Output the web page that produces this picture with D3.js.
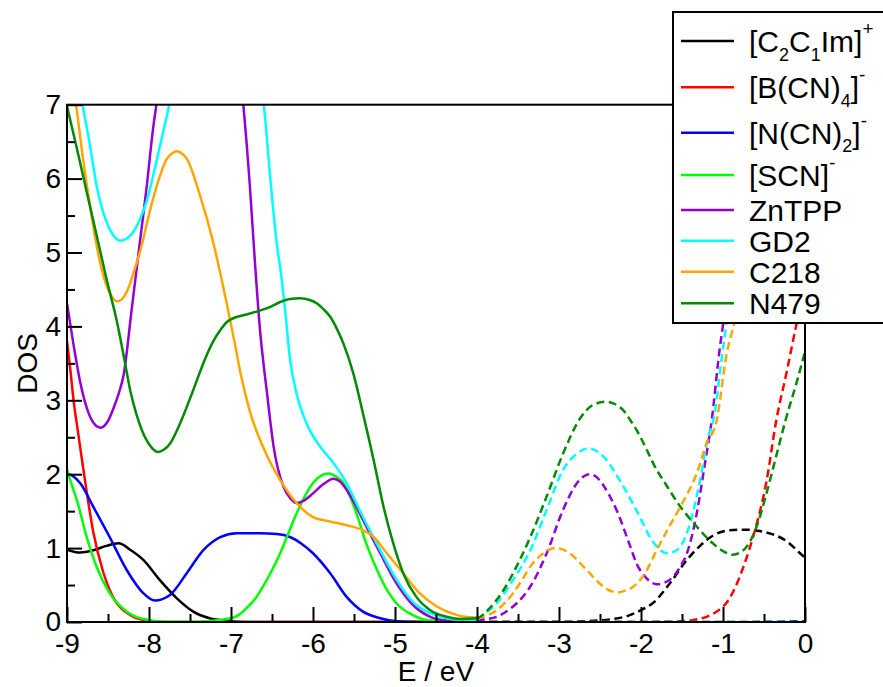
<!DOCTYPE html>
<html>
<head>
<meta charset="utf-8">
<script src="https://cdn.jsdelivr.net/npm/d3@7/dist/d3.min.js"></script>
<style>
  html, body { margin: 0; padding: 0; background: #fff; }
  svg { display: block; font-family: "Liberation Sans", Arial, Helvetica, sans-serif; }
</style>
</head>
<body>
<svg id="chart" width="883" height="687"></svg>
<script>
// ---- Density of states, [E (eV), DOS] ----
// occupied levels (solid), E <= -4 eV
const occC2C1Im = [[-9,0.98],[-8.84,0.94],[-8.68,0.97],[-8.52,1.03],[-8.37,1.065],[-8.22,0.97],[-8.07,0.84],[-7.87,0.57],[-7.66,0.32],[-7.46,0.14],[-7.26,0.05],[-7.05,0.015],[-6.8,0],[-6,0],[-5,0],[-4,0]];
const occBCN4 = [[-9,3.8],[-8.96,3.42],[-8.92,3.0],[-8.88,2.68],[-8.84,2.37],[-8.76,1.76],[-8.68,1.22],[-8.56,0.68],[-8.47,0.41],[-8.39,0.25],[-8.29,0.14],[-8.19,0.07],[-8.0,0.015],[-7.8,0],[-6,0],[-4,0]];
const occNCN2 = [[-9,2.01],[-8.92,1.97],[-8.84,1.88],[-8.68,1.56],[-8.48,1.15],[-8.27,0.70],[-8.07,0.39],[-7.93,0.29],[-7.74,0.37],[-7.54,0.66],[-7.34,0.97],[-7.13,1.15],[-6.93,1.2],[-6.65,1.2],[-6.44,1.19],[-6.28,1.15],[-6.14,1.06],[-6.0,0.93],[-5.79,0.66],[-5.59,0.34],[-5.39,0.14],[-5.18,0.05],[-4.98,0.01],[-4.7,0],[-4,0]];
const occSCN = [[-9,2.06],[-8.94,1.85],[-8.88,1.65],[-8.76,1.15],[-8.64,0.75],[-8.48,0.39],[-8.27,0.14],[-8.07,0.04],[-7.8,0.005],[-7.4,0.005],[-7.13,0.03],[-7.0,0.05],[-6.9,0.1],[-6.8,0.2],[-6.7,0.32],[-6.6,0.5],[-6.5,0.7],[-6.4,0.93],[-6.3,1.2],[-6.2,1.47],[-6.1,1.7],[-6.0,1.88],[-5.9,1.98],[-5.81,2.01],[-5.72,1.97],[-5.63,1.88],[-5.55,1.7],[-5.47,1.47],[-5.35,1.06],[-5.18,0.61],[-5.08,0.4],[-4.98,0.25],[-4.78,0.09],[-4.57,0.02],[-4.3,0.005],[-4,0]];
const occZnTPP = [[-9,4.31],[-8.92,3.75],[-8.84,3.25],[-8.76,2.9],[-8.68,2.7],[-8.59,2.63],[-8.5,2.72],[-8.42,2.93],[-8.37,3.09],[-8.31,3.34],[-8.21,4.24],[-8.11,5.15],[-8.03,5.87],[-7.95,6.68],[-7.91,7.0],[-7.8,8.0],[-7.6,9.3],[-7.35,9.8],[-7.1,9.0],[-6.95,8.0],[-6.85,7.0],[-6.77,5.9],[-6.71,4.9],[-6.65,4.0],[-6.56,3.09],[-6.48,2.37],[-6.36,1.83],[-6.28,1.68],[-6.2,1.61],[-6.1,1.65],[-6.0,1.74],[-5.88,1.86],[-5.75,1.94],[-5.67,1.9],[-5.59,1.79],[-5.49,1.6],[-5.39,1.38],[-5.18,0.93],[-4.98,0.52],[-4.78,0.23],[-4.57,0.07],[-4.37,0.02],[-4,0.0]];
const occGD2 = [[-9,8.3],[-8.9,7.6],[-8.81,7.0],[-8.72,6.45],[-8.64,5.91],[-8.52,5.42],[-8.44,5.24],[-8.35,5.16],[-8.27,5.19],[-8.19,5.28],[-8.11,5.45],[-8.03,5.69],[-7.91,6.23],[-7.78,6.86],[-7.6,7.8],[-7.3,8.6],[-7.0,8.6],[-6.75,7.8],[-6.6,7.0],[-6.52,6.0],[-6.44,5.1],[-6.4,4.8],[-6.34,4.22],[-6.28,3.55],[-6.2,3.09],[-6.08,2.69],[-5.91,2.37],[-5.75,2.15],[-5.59,1.88],[-5.49,1.65],[-5.39,1.42],[-5.18,0.97],[-4.98,0.57],[-4.78,0.27],[-4.57,0.12],[-4.37,0.05],[-4.2,0.03],[-4,0.03]];
const occC218 = [[-9,7.95],[-8.95,7.45],[-8.89,7.0],[-8.8,6.23],[-8.72,5.64],[-8.64,5.1],[-8.52,4.56],[-8.45,4.4],[-8.39,4.34],[-8.33,4.37],[-8.27,4.47],[-8.19,4.72],[-8.11,5.01],[-7.95,5.73],[-7.78,6.27],[-7.72,6.34],[-7.66,6.37],[-7.6,6.34],[-7.54,6.27],[-7.38,5.78],[-7.22,5.15],[-7.05,4.3],[-6.95,3.75],[-6.89,3.4],[-6.77,2.85],[-6.61,2.37],[-6.4,1.92],[-6.2,1.61],[-6.0,1.42],[-5.79,1.36],[-5.59,1.31],[-5.39,1.24],[-5.26,1.15],[-5.1,0.93],[-4.9,0.66],[-4.7,0.39],[-4.49,0.21],[-4.29,0.11],[-4.15,0.07],[-4,0.06]];
const occN479 = [[-9,6.98],[-8.88,6.41],[-8.76,5.82],[-8.64,5.24],[-8.52,4.65],[-8.39,4.06],[-8.3,3.55],[-8.23,3.14],[-8.15,2.8],[-8.03,2.46],[-7.96,2.35],[-7.89,2.30],[-7.82,2.33],[-7.74,2.42],[-7.62,2.69],[-7.46,3.14],[-7.32,3.55],[-7.22,3.79],[-7.13,3.95],[-7.05,4.06],[-6.95,4.12],[-6.85,4.15],[-6.69,4.2],[-6.55,4.25],[-6.4,4.33],[-6.28,4.37],[-6.16,4.38],[-6.05,4.36],[-5.95,4.31],[-5.87,4.23],[-5.79,4.13],[-5.71,3.97],[-5.63,3.77],[-5.51,3.37],[-5.39,2.82],[-5.26,2.19],[-5.14,1.56],[-5.02,1.06],[-4.9,0.66],[-4.74,0.34],[-4.57,0.16],[-4.37,0.07],[-4.2,0.04],[-4,0.05]];

// unoccupied levels (dashed), E >= -4 eV
const virC2C1Im = [[-4,0],[-3,0],[-2.8,0.005],[-2.54,0.02],[-2.35,0.04],[-2.17,0.08],[-2.0,0.16],[-1.85,0.26],[-1.65,0.52],[-1.44,0.84],[-1.28,1.03],[-1.12,1.17],[-0.92,1.24],[-0.71,1.25],[-0.55,1.23],[-0.43,1.2],[-0.22,1.09],[-0.06,0.93],[0,0.87]];
const virBCN4 = [[-4,0],[-2,0],[-1.7,0.003],[-1.44,0.015],[-1.3,0.04],[-1.2,0.07],[-1.08,0.14],[-0.95,0.27],[-0.85,0.47],[-0.75,0.75],[-0.68,0.98],[-0.61,1.24],[-0.47,1.9],[-0.35,2.73],[-0.22,3.4],[-0.11,4.0],[0,4.55]];
const virNCN2 = [[-4,0],[-2,0],[-1,0],[0,0.01]];
const virSCN = [[-4,0],[-2,0],[0,0]];
const virZnTPP = [[-4,0.0],[-3.96,0.02],[-3.76,0.07],[-3.56,0.21],[-3.45,0.33],[-3.35,0.48],[-3.15,0.93],[-2.95,1.52],[-2.78,1.88],[-2.7,1.97],[-2.62,2.0],[-2.54,1.96],[-2.46,1.85],[-2.3,1.52],[-2.13,1.02],[-2.05,0.78],[-1.97,0.64],[-1.89,0.55],[-1.81,0.51],[-1.72,0.53],[-1.61,0.61],[-1.52,0.75],[-1.44,0.93],[-1.32,1.47],[-1.22,2.15],[-1.14,2.71],[-1.04,3.70],[-1.0,4.02],[-0.92,4.8],[-0.84,5.7],[-0.75,6.7],[-0.66,7.7]];
const virGD2 = [[-4,0.03],[-3.96,0.07],[-3.76,0.25],[-3.66,0.4],[-3.56,0.57],[-3.35,0.97],[-3.15,1.52],[-2.95,2.06],[-2.78,2.28],[-2.64,2.35],[-2.46,2.24],[-2.26,1.92],[-2.05,1.5],[-1.85,1.08],[-1.77,0.98],[-1.69,0.93],[-1.6,0.95],[-1.52,1.02],[-1.4,1.34],[-1.28,1.92],[-1.18,2.51],[-1.12,2.72],[-1.0,3.70],[-0.96,4.02],[-0.88,4.75],[-0.8,5.5],[-0.7,6.5],[-0.6,7.5]];
const virC218 = [[-4,0.06],[-3.9,0.08],[-3.76,0.16],[-3.66,0.26],[-3.56,0.39],[-3.45,0.57],[-3.35,0.75],[-3.19,0.93],[-3.05,1.0],[-2.95,0.98],[-2.87,0.93],[-2.66,0.70],[-2.46,0.48],[-2.37,0.42],[-2.28,0.40],[-2.18,0.43],[-2.09,0.48],[-2.01,0.57],[-1.93,0.70],[-1.81,0.97],[-1.65,1.3],[-1.5,1.6],[-1.32,2.01],[-1.2,2.42],[-1.08,2.71],[-0.96,3.6],[-0.85,4.1],[-0.75,4.6],[-0.6,5.6],[-0.45,6.6],[-0.3,7.6]];
const virN479 = [[-4,0.05],[-3.96,0.07],[-3.86,0.17],[-3.76,0.3],[-3.66,0.46],[-3.56,0.66],[-3.35,1.15],[-3.15,1.7],[-2.95,2.28],[-2.74,2.76],[-2.58,2.94],[-2.42,2.98],[-2.32,2.95],[-2.22,2.87],[-2.13,2.73],[-2.01,2.51],[-1.93,2.33],[-1.81,2.06],[-1.73,1.92],[-1.52,1.56],[-1.32,1.29],[-1.12,1.06],[-1.0,0.96],[-0.88,0.91],[-0.79,0.94],[-0.71,1.02],[-0.59,1.29],[-0.47,1.74],[-0.35,2.25],[-0.24,2.72],[-0.1,3.25],[0,3.66]];

const occupied = [occC2C1Im, occBCN4, occNCN2, occSCN, occZnTPP, occGD2, occC218, occN479];
const unoccupied = [virC2C1Im, virBCN4, virNCN2, virSCN, virZnTPP, virGD2, virC218, virN479];

// legend labels as [text, role] runs (role: "sub", "sup" or plain)
const legendLabels = [
  [["[C"],["2","sub"],["C"],["1","sub"],["Im]"],["+","sup"]],
  [["[B(CN)"],["4","sub"],["]"],["-","sup"]],
  [["[N(CN)"],["2","sub"],["]"],["-","sup"]],
  [["[SCN]"],["-","sup"]],
  [["ZnTPP"]],
  [["GD2"]],
  [["C218"]],
  [["N479"]]
];

const xTicks = [-9,-8,-7,-6,-5,-4,-3,-2,-1,0];
const xMinorTicks = [-8.5,-7.5,-6.5,-5.5,-4.5,-3.5,-2.5,-1.5,-0.5];
const yTicks = [0,1,2,3,4,5,6,7];
const yMinorTicks = [0.5,1.5,2.5,3.5,4.5,5.5,6.5];

// ---- styling / layout ----
const colors = ["#000000","#ff0000","#0000ff","#00ff00","#9400d3","#00ffff","#ffa500","#008b00"];
const plot = {left: 67, right: 805, top: 104.7, bottom: 622};
const fontSize = 28;

const svg = d3.select("#chart");
const x = d3.scaleLinear().domain([-9, 0]).range([plot.left, plot.right]);
const y = d3.scaleLinear().domain([0, 7]).range([plot.bottom, plot.top]);

svg.append("defs").append("clipPath").attr("id", "plotClip")
  .append("rect")
  .attr("x", plot.left).attr("y", plot.top)
  .attr("width", plot.right - plot.left).attr("height", plot.bottom - plot.top);

const line = d3.line()
  .x(d => x(d[0])).y(d => y(d[1]))
  .curve(d3.curveMonotoneX);

const curves = svg.append("g").attr("clip-path", "url(#plotClip)");
occupied.forEach((pts, i) => {
  curves.append("path").attr("d", line(pts))
    .attr("fill", "none").attr("stroke", colors[i]).attr("stroke-width", 2.5)
    .attr("stroke-linejoin", "round");
});
unoccupied.forEach((pts, i) => {
  curves.append("path").attr("d", line(pts))
    .attr("fill", "none").attr("stroke", colors[i]).attr("stroke-width", 2.5)
    .attr("stroke-dasharray", "8,4.5");
});

// axes with inward ticks
function styleAxis(g) {
  g.select(".domain").remove();
  g.selectAll(".tick line").attr("stroke", "#000").attr("stroke-width", 2);
  g.selectAll(".tick text").attr("fill", "#000")
    .style("font-size", fontSize + "px")
    .style("font-family", '"Liberation Sans", Arial, sans-serif');
}

svg.append("g").attr("transform", `translate(0,${plot.bottom})`)
  .call(d3.axisBottom(x).tickValues(xTicks).tickSize(-15).tickPadding(11).tickFormat(d => String(d)))
  .call(styleAxis);
svg.append("g").attr("transform", `translate(0,${plot.bottom})`)
  .call(d3.axisBottom(x).tickValues(xMinorTicks).tickSize(-8).tickFormat(""))
  .call(styleAxis);
svg.append("g").attr("transform", `translate(${plot.left},0)`)
  .call(d3.axisLeft(y).tickValues(yTicks).tickSize(-15).tickPadding(6).tickFormat(d => String(d)))
  .call(styleAxis);
svg.append("g").attr("transform", `translate(${plot.left},0)`)
  .call(d3.axisLeft(y).tickValues(yMinorTicks).tickSize(-8).tickFormat(""))
  .call(styleAxis);

// frame
svg.append("rect")
  .attr("x", plot.left).attr("y", plot.top)
  .attr("width", plot.right - plot.left).attr("height", plot.bottom - plot.top)
  .attr("fill", "none").attr("stroke", "#000").attr("stroke-width", 2);

// axis titles
svg.append("text")
  .attr("x", (plot.left + plot.right) / 2).attr("y", 681)
  .attr("text-anchor", "middle").style("font-size", fontSize + "px")
  .text("E / eV");
svg.append("text")
  .attr("transform", `translate(36.5,${(plot.top + plot.bottom) / 2}) rotate(-90)`)
  .attr("text-anchor", "middle").style("font-size", fontSize + "px")
  .text("DOS");

// legend
const legend = svg.append("g");
legend.append("rect")
  .attr("x", 673).attr("y", 12).attr("width", 240).attr("height", 311)
  .attr("fill", "#fff").attr("stroke", "#000").attr("stroke-width", 2);
const rowY = [41, 87.3, 132.7, 175, 210, 240.7, 271.7, 303.3];
legendLabels.forEach((runs, i) => {
  legend.append("line")
    .attr("x1", 681).attr("x2", 734).attr("y1", rowY[i]).attr("y2", rowY[i])
    .attr("stroke", colors[i]).attr("stroke-width", 2.5);
  const t = legend.append("text")
    .attr("x", 749).attr("y", rowY[i] + 11)
    .style("font-size", "30px");
  // each shifted run sets its own offset; the next plain run returns to the baseline
  let acc = 0;
  runs.forEach(([s, role]) => {
    const ts = t.append("tspan").text(s);
    let shift = 0;
    if (role === "sub") { shift = 8.5; ts.style("font-size", "18px"); }
    else if (role === "sup") { shift = -17; ts.style("font-size", "19px"); }
    ts.attr("dy", shift - acc);
    acc = shift;
  });
});
</script>
</body>
</html>
